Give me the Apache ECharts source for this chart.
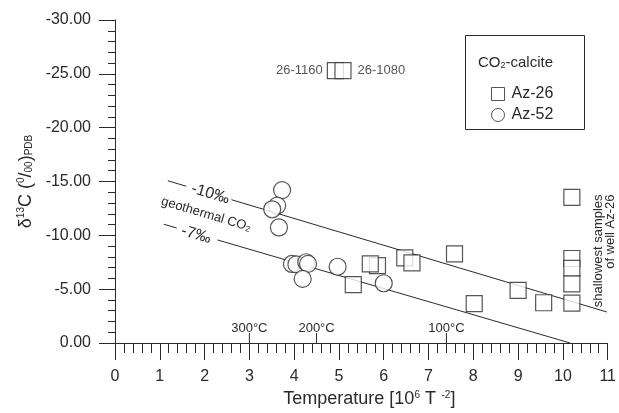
<!DOCTYPE html>
<html>
<head>
<meta charset="utf-8">
<script src="https://cdn.jsdelivr.net/npm/echarts@6/dist/echarts.min.js"></script>
<style>
  html, body { margin: 0; padding: 0; background: #fff; }
  #chart { width: 619px; height: 413px; }
</style>
</head>
<body>
<div id="chart"></div>
<script>
// Calcite CO2 samples: [10^6/T^2, δ13C ‰ PDB]
const az26 = [
  [5.86, -7.18], [5.70, -7.34], [6.47, -7.90], [6.63, -7.45], [7.58, -8.27],
  [5.32, -5.43], [8.02, -3.65], [9.00, -4.88], [9.57, -3.74], [10.20, -3.70],
  [10.20, -13.53], [10.20, -7.85], [10.20, -6.93], [10.20, -5.49]
];
const az52 = [
  [3.73, -14.20], [3.62, -12.76], [3.51, -12.42], [3.66, -10.73],
  [3.95, -7.34], [4.05, -7.30], [4.27, -7.50], [4.31, -7.35],
  [4.19, -5.95], [4.97, -7.08], [6.00, -5.55]
];
// Deep Az-26 samples with their sample codes
const deepAz26 = [[4.92, -25.3], [5.09, -25.3]];
const deepNames = ['26-1160', '26-1080'];

// Geothermal CO2 reference lines (segments, broken where the label sits)
const line10 = [[[1.18, -15.07], [1.59, -14.56]], [[2.60, -13.31], [10.98, -2.88]]];
const line7 = [[[1.09, -11.03], [1.38, -10.68]], [[2.29, -9.57], [10.16, 0.00]]];

// Temperature marks on the x axis
const tempPos = [3.0, 4.5, 7.4];
const tempNames = ['300°C', '200°C', '100°C'];

const FONT = '"Liberation Sans", Arial, Helvetica, sans-serif';
const INK = '#2a2a2a';

const chart = echarts.init(document.getElementById('chart'));

const lineSeries = [];
[line10, line7].forEach(function (segs) {
  segs.forEach(function (seg) {
    lineSeries.push({
      type: 'line', data: seg, symbol: 'none', silent: true, z: 1,
      lineStyle: { color: INK, width: 1 }
    });
  });
});

const deepData = deepAz26.map(function (p, i) {
  return {
    value: p,
    label: { show: true, position: i === 0 ? 'left' : 'right', distance: i === 0 ? 4 : 6,
      formatter: deepNames[i], fontSize: 13, color: INK, fontFamily: FONT }
  };
});

const option = {
  animation: false,
  backgroundColor: '#fff',
  textStyle: { fontFamily: FONT },
  grid: { left: 115, right: 8, top: 20, bottom: 67 },
  xAxis: {
    type: 'value', min: 0, max: 11, interval: 1,
    axisLine: { onZero: false, lineStyle: { color: INK, width: 1 } },
    axisTick: { length: 17, lineStyle: { color: INK } },
    minorTick: { show: true, splitNumber: 5, length: 10, lineStyle: { color: INK } },
    splitLine: { show: false },
    axisLabel: { fontSize: 16, color: INK, margin: 26, fontFamily: FONT },
    name: 'Temperature [10{sup|6} T{sup|  -2}]',
    nameLocation: 'middle', nameGap: 47,
    nameTextStyle: {
      fontSize: 18, color: INK, fontFamily: FONT, padding: [0, 0, 0, 16],
      rich: { sup: { fontSize: 10, verticalAlign: 'top', color: INK, fontFamily: FONT } }
    }
  },
  yAxis: {
    type: 'value', min: -30, max: 0, interval: 5, inverse: true,
    axisLine: { show: true, onZero: false, lineStyle: { color: INK, width: 1 } },
    axisTick: { show: true, length: 16, lineStyle: { color: INK } },
    minorTick: { show: true, splitNumber: 5, length: 7, lineStyle: { color: INK } },
    splitLine: { show: false },
    axisLabel: {
      fontSize: 16, color: INK, margin: 24, fontFamily: FONT,
      formatter: function (v) { return v.toFixed(2); }
    },
    name: '{m|δ}{sup|13}{m|C (}{sup|0}{m|/}{sub|00}{m|)}{sub|PDB}',
    nameLocation: 'middle', nameGap: 80, nameRotate: 90,
    nameTextStyle: {
      fontSize: 18, color: INK, fontFamily: FONT,
      rich: {
        m: { fontSize: 18, color: INK, fontFamily: FONT },
        sup: { fontSize: 10, verticalAlign: 'top', color: INK, fontFamily: FONT },
        sub: { fontSize: 10, verticalAlign: 'bottom', color: INK, fontFamily: FONT }
      }
    }
  },
  legend: {
    orient: 'vertical', left: 486, top: 81,
    itemWidth: 13, itemHeight: 13, itemGap: 5,
    selectedMode: false,
    itemStyle: { color: '#fff', borderColor: INK, borderWidth: 1 },
    textStyle: { fontSize: 16, color: INK, fontFamily: FONT, padding: [0, 0, 0, 2] },
    data: [{ name: 'Az-26', icon: 'rect' }, { name: 'Az-52', icon: 'circle' }]
  },
  series: lineSeries.concat([
    {
      name: 'Az-26', type: 'scatter', symbol: 'rect', symbolSize: 16, z: 3,
      itemStyle: { color: '#fff', borderColor: INK, borderWidth: 1.2 },
      data: az26.concat(deepData)
    },
    {
      name: 'Az-52', type: 'scatter', symbol: 'circle', symbolSize: 17, z: 3,
      itemStyle: { color: '#fff', borderColor: INK, borderWidth: 1.2 },
      data: az52
    },
    {
      type: 'custom', silent: true, z: 4,
      data: tempPos.map(function (x) { return [x, 0]; }),
      renderItem: function (params, api) {
        const p = api.coord([api.value(0), 0]);
        return {
          type: 'group',
          children: [
            { type: 'line', shape: { x1: p[0], y1: p[1], x2: p[0], y2: p[1] - 10 },
              style: { stroke: INK, lineWidth: 1 } },
            { type: 'text', x: p[0], y: p[1] - 8,
              style: { text: tempNames[params.dataIndex], fill: INK,
                font: '13px ' + FONT, align: 'center', verticalAlign: 'bottom' } }
          ]
        };
      }
    }
  ])
};

chart.setOption(option);

// Text set along the reference lines and the box around the legend
function px(p) { return chart.convertToPixel({ xAxisIndex: 0, yAxisIndex: 0 }, p); }
function slopeAngle(seg) {
  const a = px(seg[0]), b = px(seg[1]);
  return -Math.atan2(b[1] - a[1], b[0] - a[0]);
}
const rot10 = slopeAngle(line10[1]);
const rot7 = slopeAngle(line7[1]);
const p10 = px([2.13, -13.85]);
const pGeo = px([2.03, -11.95]);
const p7 = px([1.81, -10.05]);
const pShallow = px([10.92, -13.8]);

chart.setOption({
  graphic: [
    { type: 'text', x: p10[0], y: p10[1], rotation: rot10, silent: true,
      style: { text: '-10‰', font: '16px ' + FONT, fill: INK, align: 'center', verticalAlign: 'middle' } },
    { type: 'text', x: p7[0], y: p7[1], rotation: rot7, silent: true,
      style: { text: '-7‰', font: '16px ' + FONT, fill: INK, align: 'center', verticalAlign: 'middle' } },
    { type: 'text', x: pGeo[0], y: pGeo[1], rotation: rot10, silent: true,
      style: {
        text: 'geothermal CO{s|2}', font: '13px ' + FONT, fill: INK, align: 'center', verticalAlign: 'middle',
        rich: { s: { fontSize: 8, verticalAlign: 'bottom', fill: INK, fontFamily: FONT } }
      } },
    { type: 'text', x: pShallow[0], y: pShallow[1], rotation: Math.PI / 2, silent: true,
      style: {
        text: 'shallowest samples\nof well Az-26', font: '13px ' + FONT, fill: INK,
        align: 'right', verticalAlign: 'middle', lineHeight: 12
      } },
    { type: 'rect', silent: true,
      shape: { x: 465.5, y: 35.5, width: 119, height: 94 },
      style: { fill: 'none', stroke: INK, lineWidth: 1 } },
    { type: 'text', x: 478, y: 63, silent: true,
      style: {
        text: 'CO{s|2}-calcite', font: '15px ' + FONT, fill: INK, verticalAlign: 'middle',
        rich: { s: { fontSize: 9, verticalAlign: 'bottom', fill: INK, fontFamily: FONT } }
      } }
  ]
});
</script>
</body>
</html>
